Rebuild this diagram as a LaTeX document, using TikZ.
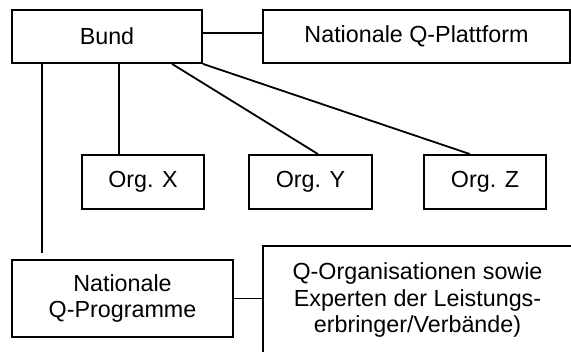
\documentclass[tikz,border=0pt]{standalone}
\usepackage{fontspec}
\setmainfont{Liberation Sans}
\begin{document}
\begin{tikzpicture}[x=1pt,y=1pt,
  box/.style={draw,line width=1.8pt,inner sep=0pt,align=center,
    font=\fontsize{23.3}{26.5}\selectfont},
  conn/.style={line width=1.8pt}]
\useasboundingbox (0,0) rectangle (571,352);
\clip (0,0) rectangle (571,352);
\node[box,minimum width=190,minimum height=53] (bund) at (107,315.5) {Bund};
\node[box,minimum width=307,minimum height=53] (platt) at (416.5,315.5) {Nationale Q-Plattform};
\node[box,minimum width=122,minimum height=54] (orgx) at (143,170) {Org. X};
\node[box,minimum width=123,minimum height=54] (orgy) at (310.5,170) {Org. Y};
\node[box,minimum width=122,minimum height=54] (orgz) at (485,170) {Org. Z};
\node[box,minimum width=221,minimum height=77] (prog) at (122.5,53.5) {Nationale\\Q-Programme};
\node[box,minimum width=309,minimum height=108] (qorg) at (417.5,52) {Q-Organisationen sowie\\Experten der Leistungs-\\erbringer/Verbände)};
\coordinate (pend) at (42,99);
\coordinate (vx) at (119,0);
\draw[conn] ([yshift=3.5]bund.east) -- ([yshift=3.5]platt.west);
\draw[conn] (bund.south -| pend) -- (pend);
\draw[conn] (bund.south -| vx) -- (orgx.north -| vx);
\draw[conn] ([xshift=65]bund.south) -- ([xshift=7.5]orgy.north);
\draw[conn] (bund.south east) -- ([xshift=-15]orgz.north);
\draw[conn] (prog.east) -- (qorg.west |- prog.east);
\end{tikzpicture}
\end{document}
